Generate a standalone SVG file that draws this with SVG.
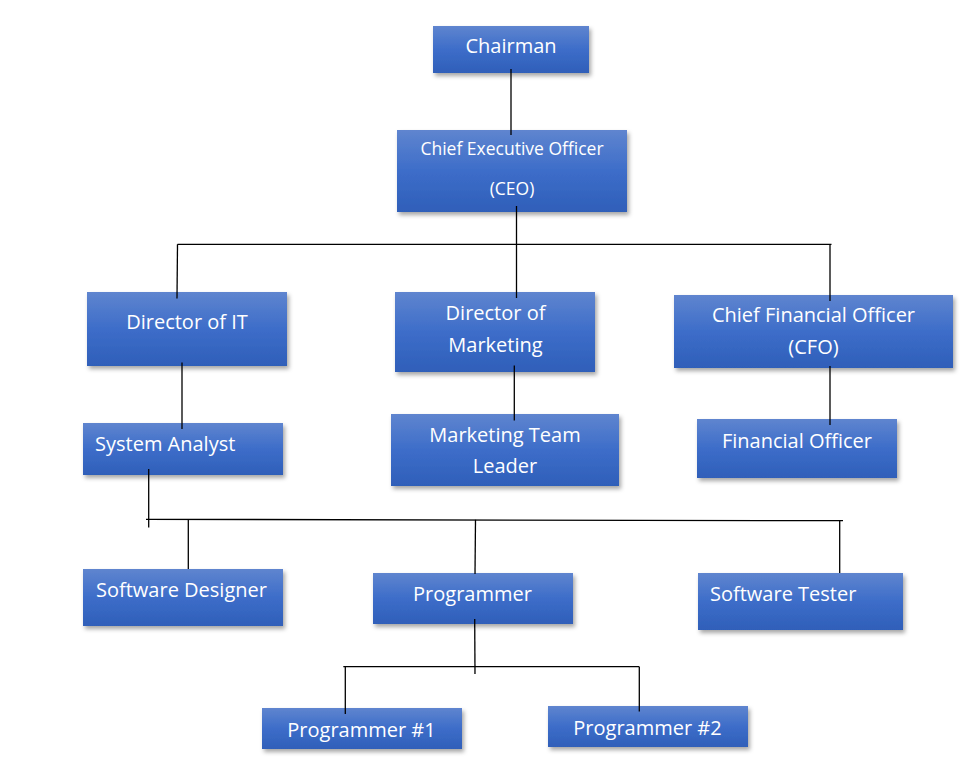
<svg xmlns="http://www.w3.org/2000/svg" width="970" height="780" viewBox="0 0 970 780">
<defs>
<linearGradient id="g" x1="0" y1="0" x2="0" y2="1">
<stop offset="0" stop-color="#5f85cf"/>
<stop offset="0.5" stop-color="#3d6dc9"/>
<stop offset="1" stop-color="#2f5fb9"/>
</linearGradient>
<filter id="sh" x="-10%" y="-10%" width="125%" height="140%">
<feDropShadow dx="2" dy="3" stdDeviation="2" flood-color="#000" flood-opacity="0.35"/>
</filter>
</defs>
<style>
.box{fill:url(#g);filter:url(#sh);}
.t{font-family:"Open Sans","Noto Sans","Liberation Sans",sans-serif;font-size:20px;fill:#ffffff;}
.c{text-anchor:middle;}
.s{font-size:17.5px;}
.ln{stroke:#000;stroke-width:1.3;fill:none;}
</style>
<rect width="970" height="780" fill="#ffffff"/>
<g id="chairman"><rect class="box" x="433" y="26" width="156" height="47"/><text class="t c" x="511" y="53">Chairman</text></g>
<g id="ceo"><rect class="box" x="397" y="130" width="230" height="82"/><text class="t c s" x="512" y="155">Chief Executive Officer</text><text class="t c s" x="512" y="195">(CEO)</text></g>
<g id="dir-it"><rect class="box" x="87" y="292" width="200" height="74"/><text class="t c" x="187" y="329">Director of IT</text></g>
<g id="dir-marketing"><rect class="box" x="395" y="292" width="200" height="80"/><text class="t c" x="495.5" y="320">Director of</text><text class="t c" x="495.5" y="351.5">Marketing</text></g>
<g id="cfo"><rect class="box" x="674" y="295" width="279" height="73"/><text class="t c" x="813.5" y="321.5">Chief Financial Officer</text><text class="t c" x="813.5" y="354">(CFO)</text></g>
<g id="system-analyst"><rect class="box" x="83" y="423" width="200" height="52"/><text class="t" x="95" y="450.5">System Analyst</text></g>
<g id="marketing-team-leader"><rect class="box" x="391" y="414" width="228" height="72"/><text class="t c" x="505" y="442">Marketing Team</text><text class="t c" x="505" y="473">Leader</text></g>
<g id="financial-officer"><rect class="box" x="697" y="419" width="200" height="59"/><text class="t c" x="797" y="448">Financial Officer</text></g>
<g id="software-designer"><rect class="box" x="83" y="569" width="200" height="57"/><text class="t" x="96" y="596.5">Software Designer</text></g>
<g id="programmer"><rect class="box" x="373" y="573" width="200" height="51"/><text class="t c" x="472.5" y="601">Programmer</text></g>
<g id="software-tester"><rect class="box" x="698" y="573" width="205" height="57"/><text class="t" x="710" y="601">Software Tester</text></g>
<g id="programmer-1"><rect class="box" x="262" y="708" width="200" height="41"/><text class="t c" x="361.5" y="736.5">Programmer #1</text></g>
<g id="programmer-2"><rect class="box" x="548" y="706" width="200" height="41"/><text class="t c" x="647.5" y="734.5">Programmer #2</text></g>
<g id="connectors" class="ln">
<line class="ln" x1="511" y1="69" x2="511" y2="135"/>
<line class="ln" x1="516.5" y1="206" x2="516.5" y2="298"/>
<line class="ln" x1="177.5" y1="244.3" x2="831.5" y2="244.3"/>
<line class="ln" x1="177.5" y1="244.3" x2="177" y2="298.5"/>
<line class="ln" x1="830" y1="244.3" x2="830" y2="301"/>
<line class="ln" x1="182" y1="362.5" x2="182" y2="429"/>
<line class="ln" x1="514.3" y1="365.5" x2="514.3" y2="420.5"/>
<line class="ln" x1="830" y1="366" x2="830" y2="425"/>
<line class="ln" x1="148.7" y1="469" x2="148.7" y2="527.5"/>
<line class="ln" x1="146" y1="519.3" x2="843" y2="520.7"/>
<line class="ln" x1="188.3" y1="519.5" x2="188.3" y2="569"/>
<line class="ln" x1="475.5" y1="519.8" x2="475" y2="574"/>
<line class="ln" x1="839.7" y1="520.7" x2="839.7" y2="573"/>
<line class="ln" x1="474.7" y1="619" x2="475" y2="674"/>
<line class="ln" x1="343.3" y1="666.7" x2="639.3" y2="666.7"/>
<line class="ln" x1="345.3" y1="666.7" x2="345.3" y2="714"/>
<line class="ln" x1="639.3" y1="666.7" x2="639.3" y2="711.5"/>
</g>
</svg>
